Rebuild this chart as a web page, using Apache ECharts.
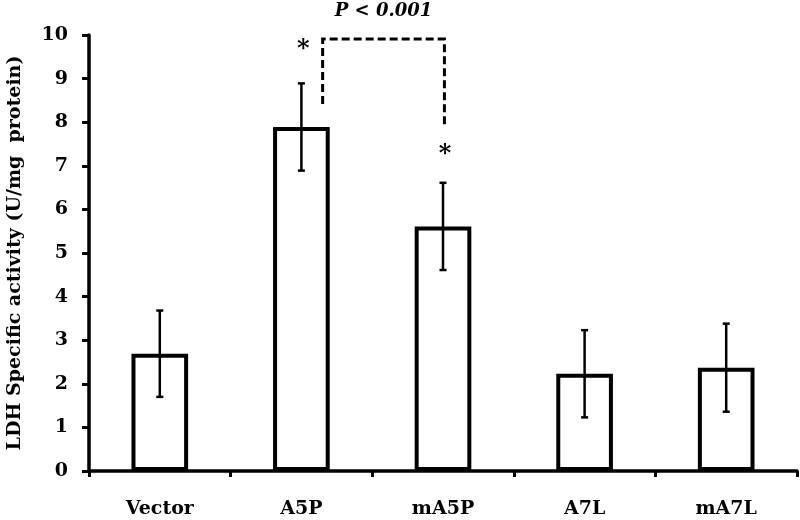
<!DOCTYPE html>
<html>
<head>
<meta charset="utf-8">
<script src="https://cdn.jsdelivr.net/npm/echarts@6/dist/echarts.min.js"></script>
<style>html,body{margin:0;padding:0;background:#fff}#c{width:800px;height:520px}</style>
</head>
<body>
<div id="c"></div>
<script>
var categories = ['Vector', 'A5P', 'mA5P', 'A7L', 'mA7L'];
var means = [2.69, 7.89, 5.61, 2.23, 2.37];
var errors = [0.99, 1.0, 1.0, 1.0, 1.01];
var yTicks = [0, 1, 2, 3, 4, 5, 6, 7, 8, 9, 10];
var stars = [[1, 9.65], [2, 7.25]];
var bracket = { from: 1, to: 2, top: 9.91, leftBottom: 8.42, rightBottom: 7.9, label: 'P < 0.001', labelY: 10.55 };

var FONT = '"DejaVu Serif", serif';
var chart = echarts.init(document.getElementById('c'));

var errData = categories.map(function (c, i) { return [i, means[i] - errors[i], means[i] + errors[i]]; });

chart.setOption({
  animation: false,
  grid: { left: 89, right: 3, top: 35, bottom: 49, containLabel: false, outerBoundsMode: 'none' },
  xAxis: {
    type: 'category',
    data: categories,
    axisLine: { lineStyle: { color: '#000', width: 3.5 } },
    axisTick: { show: true, length: 6, lineStyle: { color: '#000', width: 3 } },
    axisLabel: { color: '#000', fontFamily: FONT, fontWeight: 'bold', fontSize: 19, margin: 29 }
  },
  yAxis: {
    type: 'value',
    min: yTicks[0],
    max: yTicks[yTicks.length - 1],
    interval: 1,
    name: 'LDH Specific activity (U/mg  protein)',
    nameLocation: 'middle',
    nameGap: 64,
    nameTextStyle: { color: '#000', fontFamily: FONT, fontWeight: 'bold', fontSize: 19 },
    axisLine: { show: true, lineStyle: { color: '#000', width: 3.5 } },
    axisTick: { show: true, length: 7, lineStyle: { color: '#000', width: 3 } },
    axisLabel: { color: '#000', fontFamily: FONT, fontWeight: 'bold', fontSize: 19, margin: 21 },
    splitLine: { show: false }
  },
  series: [
    {
      type: 'bar',
      data: means,
      barWidth: '40%',
      itemStyle: { color: '#fff', borderColor: '#000', borderWidth: 4 }
    },
    {
      type: 'custom',
      data: errData,
      z: 10,
      renderItem: function (params, api) {
        var x = api.value(0);
        var lo = api.coord([x, api.value(1)]);
        var hi = api.coord([x, api.value(2)]);
        var cap = 3.5;
        var st = { stroke: '#000', lineWidth: 2.5 };
        return {
          type: 'group',
          children: [
            { type: 'line', shape: { x1: hi[0], y1: hi[1], x2: lo[0], y2: lo[1] }, style: st },
            { type: 'line', shape: { x1: hi[0] - cap, y1: hi[1], x2: hi[0] + cap, y2: hi[1] }, style: st },
            { type: 'line', shape: { x1: lo[0] - cap, y1: lo[1], x2: lo[0] + cap, y2: lo[1] }, style: st }
          ]
        };
      }
    },
    {
      type: 'custom',
      data: stars,
      clip: false,
      z: 10,
      renderItem: function (params, api) {
        var p = api.coord([api.value(0), api.value(1)]);
        return {
          type: 'text',
          x: p[0] + 2, y: p[1],
          style: { text: '*', fill: '#000', font: 'bold 24px ' + FONT, align: 'center', verticalAlign: 'middle' }
        };
      }
    },
    {
      type: 'custom',
      data: [[bracket.from, bracket.to]],
      clip: false,
      z: 10,
      renderItem: function (params, api) {
        var w = api.size([1, 0])[0];
        var l = api.coord([bracket.from, bracket.top]);
        var lb = api.coord([bracket.from, bracket.leftBottom]);
        var r = api.coord([bracket.to, bracket.top]);
        var rb = api.coord([bracket.to, bracket.rightBottom]);
        var lx = l[0] + w * 0.15;
        var rx = r[0] + w * 0.01;
        var lab = api.coord([bracket.from, bracket.labelY]);
        return {
          type: 'group',
          children: [
            { type: 'polyline', shape: { points: [[lx, lb[1]], [lx, l[1]], [rx, r[1]], [rx, rb[1]]] },
              style: { stroke: '#000', lineWidth: 3, fill: null, lineDash: [8, 4] } },
            { type: 'text', x: (lx + rx) / 2, y: lab[1],
              style: { text: bracket.label, fill: '#000', font: 'italic bold 18px ' + FONT, align: 'center', verticalAlign: 'middle' } }
          ]
        };
      }
    }
  ]
});
</script>
</body>
</html>
